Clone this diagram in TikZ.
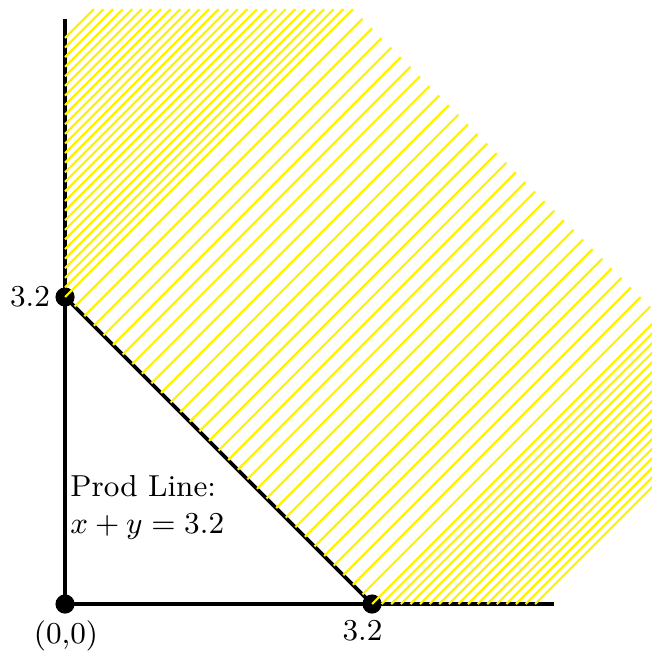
\documentclass[tikz,border=0pt]{standalone}
\begin{document}
\begin{tikzpicture}[
  axis/.style={line width=1pt},
  prodline/.style={line width=1.1pt},
  dot/.style={circle, fill=black, inner sep=0pt, minimum size=0.2cm},
  lbl/.style={font=\small, inner sep=3pt},
  hatch/.style={yellow, line width=0.65pt}
]
\useasboundingbox (-0.678,-0.49) rectangle (6.118,6.296);
\node[dot] (O) at (0,0) {};
\node[dot] (Y) at (0,3.2) {};
\node[dot] (X) at (3.2,0) {};
\coordinate (xend) at (5.1,0);
\coordinate (yend) at (0,6.1);
\draw[axis] (O.center) -- (xend);
\draw[axis] (O.center) -- (yend);
\draw[prodline] (Y.center) -- (X.center);
% hatching of the feasible region
\foreach \i in {33,...,59} \draw[hatch] (0,\i/10) -- ({6.2-\i/10},6.2);
\foreach \i in {0,...,32} \draw[hatch] ({\i/10},{3.2-\i/10}) -- ++(3,3);
\foreach \i in {33,...,49} \draw[hatch] ({\i/10},0) -- (6.2,{6.2-\i/10});
\node[lbl, anchor=east] (ly) at ([xshift=-0.045cm]Y.center) {3.2};
\node[lbl, anchor=north] (lx) at ([xshift=-0.099cm, yshift=-0.058cm]X.center) {3.2};
\node[lbl, anchor=north] (lo) at ([xshift=0.01cm, yshift=-0.058cm]O.center) {(0,0)};
\node[font=\small, inner sep=0pt, anchor=north west, align=left] (pl) at (0.049,1.345) {Prod Line:\\ $x+y=3.2$};
\end{tikzpicture}
\end{document}
